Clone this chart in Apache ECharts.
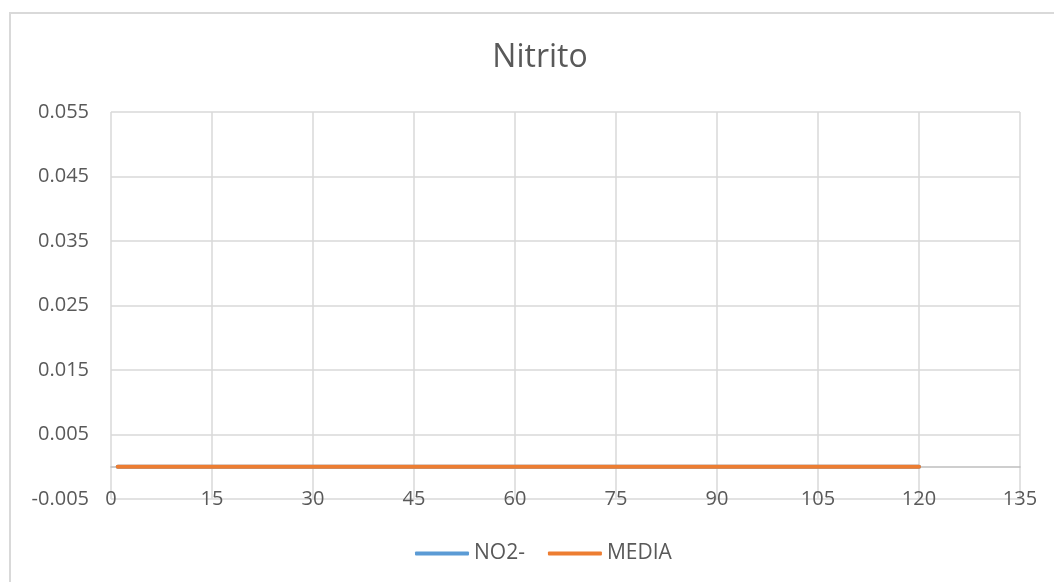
<!DOCTYPE html>
<html>
<head>
<meta charset="utf-8">
<title>Nitrito</title>
<script src="https://cdn.jsdelivr.net/npm/echarts@6/dist/echarts.min.js"></script>
<style>
  html, body { margin: 0; padding: 0; background: #ffffff; }
  #chart { width: 1054px; height: 582px; }
</style>
</head>
<body>
<div id="chart"></div>
<script>
// Sampling times (x) and measured nitrite values
const tiempos = [1, 15, 30, 45, 60, 75, 90, 105, 120];
const no2 = [0, 0, 0, 0, 0, 0, 0, 0, 0];
const media = [0, 0, 0, 0, 0, 0, 0, 0, 0];
const seriesNames = ['NO2-', 'MEDIA'];
const xTicks = { min: 0, max: 135, interval: 15 };
const yTicks = { min: -0.005, max: 0.055, interval: 0.01 };

const FONT = '"Open Sans", "Noto Sans", sans-serif';
const TEXT = '#595959';
const GRID = '#d9d9d9';

const pairs = arr => tiempos.map((t, i) => [t, arr[i]]);

const chart = echarts.init(document.getElementById('chart'), null, { renderer: 'canvas' });
chart.setOption({
  animation: false,
  backgroundColor: '#ffffff',
  graphic: [{
    type: 'rect',
    shape: { x: 10, y: 13, width: 1100, height: 700 },
    style: { fill: 'none', stroke: GRID, lineWidth: 2 },
    silent: true, z: -10
  }],
  title: {
    text: 'Nitrito',
    left: 535, top: 37, textAlign: 'center',
    textStyle: { fontFamily: FONT, fontSize: 32, fontWeight: 'normal', color: TEXT }
  },
  legend: {
    data: seriesNames,
    icon: 'roundRect',
    left: 410, top: 538,
    itemWidth: 54, itemHeight: 4, itemGap: 23,
    textStyle: { fontFamily: FONT, fontSize: 21, color: TEXT }
  },
  grid: { left: 111, top: 112, width: 909, height: 387, containLabel: false },
  xAxis: [{
    type: 'value',
    min: xTicks.min, max: xTicks.max, interval: xTicks.interval,
    position: 'bottom',
    axisLine: { show: false, onZero: false },
    axisTick: { show: false },
    splitLine: { show: true, lineStyle: { color: GRID, width: 1.5 } },
    axisLabel: { fontFamily: FONT, fontSize: 20, color: TEXT, margin: 0, verticalAlign: 'middle' }
  }, {
    type: 'value',
    min: xTicks.min, max: xTicks.max, interval: xTicks.interval,
    position: 'bottom',
    axisLine: { show: true, onZero: true, lineStyle: { color: '#bfbfbf', width: 1.5 } },
    axisTick: { show: false },
    splitLine: { show: false },
    axisLabel: { show: false }
  }],
  yAxis: {
    type: 'value',
    min: yTicks.min, max: yTicks.max, interval: yTicks.interval,
    axisLine: { show: false },
    axisTick: { show: false },
    splitLine: { show: true, lineStyle: { color: GRID, width: 1.5 } },
    axisLabel: {
      fontFamily: FONT, fontSize: 20, color: TEXT, margin: 22,
      formatter: v => String(Number(v.toFixed(3)))
    }
  },
  series: [{
    name: seriesNames[0],
    type: 'line',
    xAxisIndex: 0,
    data: pairs(no2),
    symbol: 'none',
    itemStyle: { color: '#5B9BD5' },
    lineStyle: { color: '#5B9BD5', width: 4, cap: 'round' }
  }, {
    name: seriesNames[1],
    type: 'line',
    xAxisIndex: 0,
    data: pairs(media),
    symbol: 'none',
    itemStyle: { color: '#ED7D31' },
    lineStyle: { color: '#ED7D31', width: 4, cap: 'round' }
  }]
});
</script>
</body>
</html>
